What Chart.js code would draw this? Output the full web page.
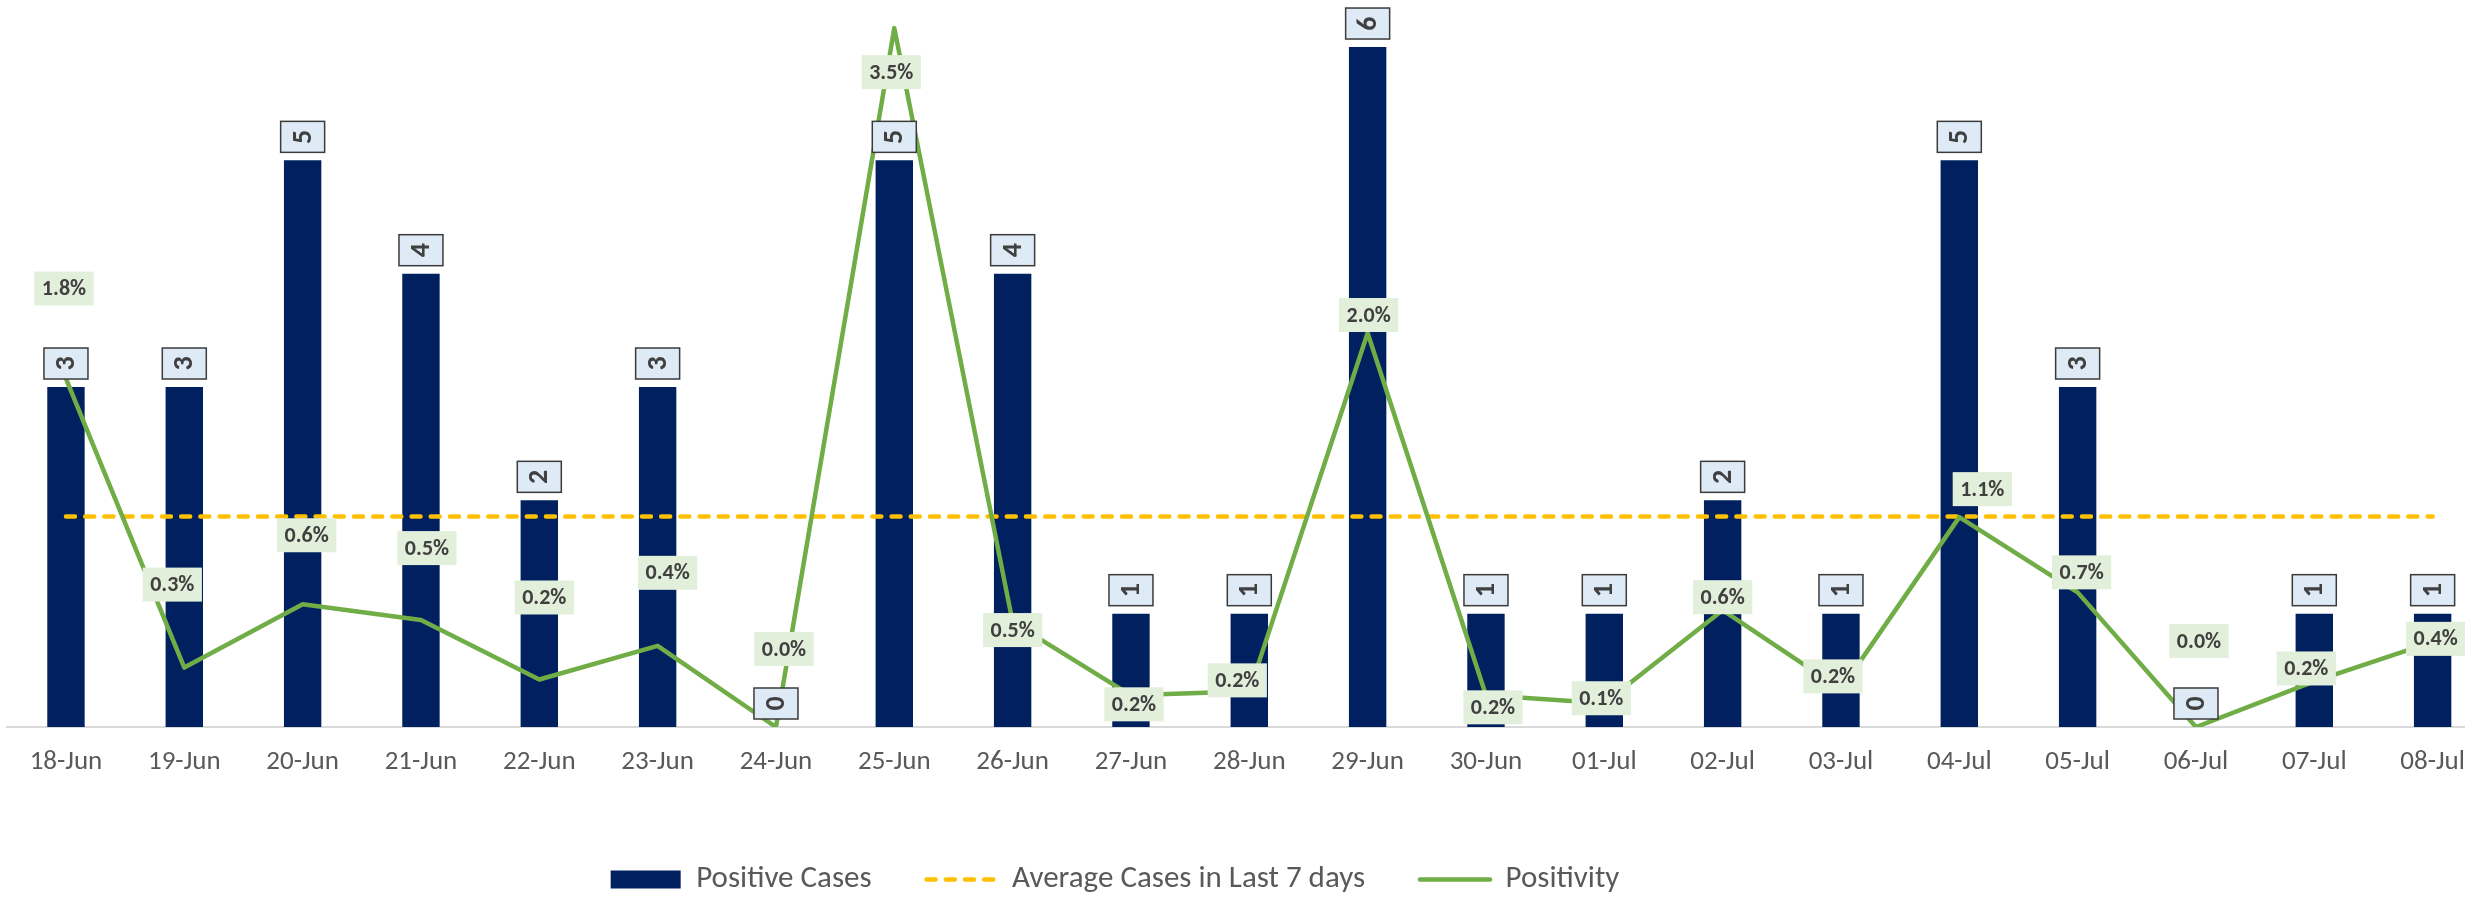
<!DOCTYPE html>
<html>
<head>
<meta charset="utf-8">
<script src="https://cdn.jsdelivr.net/npm/chart.js@4.4.1/dist/chart.umd.min.js"></script>
<style>
  html, body { margin: 0; padding: 0; overflow: hidden; background: #ffffff; width: 2465px; height: 897px; }
  #wrap { position: absolute; left: 0; top: 0; }
  canvas { display: block; }
</style>
</head>
<body>
<div id="wrap"><canvas id="chart"></canvas></div>
<script>
// ---------------- DATA ----------------
const categories = ['18-Jun','19-Jun','20-Jun','21-Jun','22-Jun','23-Jun','24-Jun','25-Jun','26-Jun','27-Jun','28-Jun',
                    '29-Jun','30-Jun','01-Jul','02-Jul','03-Jul','04-Jul','05-Jul','06-Jul','07-Jul','08-Jul'];
const positiveCases = [3, 3, 5, 4, 2, 3, 0, 5, 4, 1, 1, 6, 1, 1, 2, 1, 5, 3, 0, 1, 1];
const averageCases7d = [1.857, 1.857, 1.857, 1.857, 1.857, 1.857, 1.857, 1.857, 1.857, 1.857, 1.857,
                        1.857, 1.857, 1.857, 1.857, 1.857, 1.857, 1.857, 1.857, 1.857, 1.857];
const positivityPct = [1.76, 0.30, 0.62, 0.54, 0.24, 0.41, 0.00, 3.53, 0.53, 0.16, 0.18,
                       1.99, 0.16, 0.12, 0.59, 0.19, 1.06, 0.68, 0.00, 0.23, 0.43];
const seriesNames = ['Positive Cases', 'Average Cases in Last 7 days', 'Positivity'];

// ---------------- LAYOUT / STYLE ----------------
const CASES_AXIS_MAX = 6.415;   // hidden primary axis range
const PCT_AXIS_MAX = 3.672;     // hidden secondary axis range (%)
// manual label nudges (px) for the positivity labels, relative to each point
const pctLabelOffsets = [[-2,-90],[-12,-83],[4,-69],[6,-72],[5,-82],[10,-73],[8,-78],[-3,44],[0,8],[3,9],[-12,-11],
                         [1,-18],[7,12],[-3,-5],[0,-13],[-8,-13],[23,-28],[4,-20],[3,-86],[-8,-13],[3,-3]];

function fontAvailable(name) {
  const c = document.createElement('canvas').getContext('2d');
  const s = 'abcdefghijklmnopqrstuvwxyz0123456789';
  c.font = '40px monospace'; const a = c.measureText(s).width;
  c.font = '40px serif'; const b = c.measureText(s).width;
  c.font = '40px "' + name + '", monospace'; const a2 = c.measureText(s).width;
  c.font = '40px "' + name + '", serif'; const b2 = c.measureText(s).width;
  return a !== a2 || b !== b2;
}
const useCarlito = fontAvailable('Carlito');
const FAMILY = useCarlito ? 'Carlito' : 'Lato';
const FS = useCarlito
  ? { tick: 27, legend: 31, barLabel: 28, pctLabel: 22 }
  : { tick: 24.8, legend: 28.2, barLabel: 25, pctLabel: 19.4 };

const CANVAS_W = 2500;
const PLOT_BOTTOM = 727;
const LEGEND_CENTER_Y = 879;
const LEGEND_CENTER_X = 1115;
const LEGEND_PAD = 55;
const CANVAS_H = Math.round(LEGEND_CENTER_Y + 10 + FS.legend / 2);
const LEGEND_H = FS.legend + LEGEND_PAD + 10;

const canvas = document.getElementById('chart');
canvas.width = CANVAS_W; canvas.height = CANVAS_H;
canvas.style.width = CANVAS_W + 'px'; canvas.style.height = CANVAS_H + 'px';

Chart.defaults.font.family = FAMILY;

const labelPlugin = {
  id: 'customLabels',
  afterDatasetsDraw(chart) {
    const ctx = chart.ctx;
    ctx.save();
    // bar value boxes (rotated text)
    const barMeta = chart.getDatasetMeta(0);
    const barData = chart.data.datasets[0].data;
    barMeta.data.forEach((bar, i) => {
      const w = 44, h = 31;
      const cx = bar.x;
      const top = bar.y - 8 - h;
      ctx.fillStyle = '#DEEBF7';
      ctx.fillRect(cx - w / 2, top, w, h);
      ctx.strokeStyle = '#3B3B3B';
      ctx.lineWidth = 1.5;
      ctx.strokeRect(cx - w / 2, top, w, h);
      ctx.save();
      ctx.translate(cx, top + h / 2);
      ctx.rotate(-Math.PI / 2);
      ctx.font = 'bold ' + FS.barLabel + 'px ' + FAMILY;
      ctx.fillStyle = '#404040';
      ctx.textAlign = 'center';
      ctx.textBaseline = 'middle';
      ctx.fillText(String(barData[i]), 0, 1);
      ctx.restore();
    });
    // positivity boxes
    const lineMeta = chart.getDatasetMeta(2);
    const pctData = chart.data.datasets[2].data;
    ctx.font = 'bold ' + FS.pctLabel + 'px ' + FAMILY;
    ctx.textAlign = 'center';
    ctx.textBaseline = 'middle';
    lineMeta.data.forEach((pt, i) => {
      const txt = pctData[i].toFixed(1) + '%';
      const tw = ctx.measureText(txt).width;
      const w = tw + 15, h = 34;
      const off = pctLabelOffsets[i];
      const cx = pt.x + off[0], cy = pt.y + off[1];
      ctx.fillStyle = '#E2EFDA';
      ctx.fillRect(cx - w / 2, cy - h / 2, w, h);
      ctx.fillStyle = '#404040';
      ctx.fillText(txt, cx, cy + 1);
    });
    ctx.restore();
  }
};

const legendShift = {
  id: 'legendShift',
  afterLayout(chart) {
    const lg = chart.legend;
    if (!lg) return;
    const dx = LEGEND_CENTER_X - (lg.left + lg.right) / 2;
    lg.left += dx; lg.right += dx;
  }
};

new Chart(canvas, {
  data: {
    labels: categories,
    datasets: [
      {
        type: 'bar', label: seriesNames[0], data: positiveCases,
        backgroundColor: '#002060', borderWidth: 0,
        barPercentage: 0.316, categoryPercentage: 1.0,
        yAxisID: 'y', order: 3
      },
      {
        type: 'line', label: seriesNames[1], data: averageCases7d,
        borderColor: '#FFC000', backgroundColor: '#FFC000', borderWidth: 4.5,
        borderDash: [9, 10.2], borderCapStyle: 'round',
        pointRadius: 0, fill: false, tension: 0, yAxisID: 'y', order: 2
      },
      {
        type: 'line', label: seriesNames[2], data: positivityPct,
        borderColor: '#70AD47', backgroundColor: '#70AD47', borderWidth: 4.5,
        borderJoinStyle: 'round', borderCapStyle: 'round',
        pointRadius: 0, fill: false, tension: 0, yAxisID: 'y2', order: 1
      }
    ]
  },
  options: {
    responsive: false,
    devicePixelRatio: 1,
    animation: false,
    events: [],
    layout: { padding: { left: 6.8, right: CANVAS_W - 2491.8, top: 0, bottom: 0 } },
    scales: {
      x: {
        offset: true,
        grid: { display: false, drawTicks: false },
        border: { display: true, color: '#D9D9D9', width: 2 },
        ticks: {
          color: '#595959', font: { size: FS.tick, family: FAMILY },
          padding: 35 - 0.6 * FS.tick, maxRotation: 0, autoSkip: false
        },
        afterFit(scale) { scale.height = (CANVAS_H - LEGEND_H) - PLOT_BOTTOM; }
      },
      y: { display: false, min: 0, max: CASES_AXIS_MAX },
      y2: { display: false, min: 0, max: PCT_AXIS_MAX, position: 'right' }
    },
    plugins: {
      tooltip: { enabled: false },
      legend: {
        position: 'bottom',
        labels: {
          usePointStyle: true, pointStyleWidth: 70, boxHeight: 18,
          padding: LEGEND_PAD, color: '#595959',
          font: { size: FS.legend, family: FAMILY },
          generateLabels(chart) {
            return chart.data.datasets.map((ds, i) => ({
              text: ds.label,
              fillStyle: ds.type === 'bar' ? ds.backgroundColor : 'rgba(0,0,0,0)',
              strokeStyle: ds.type === 'bar' ? ds.backgroundColor : ds.borderColor,
              lineWidth: ds.type === 'bar' ? 0 : ds.borderWidth,
              lineDash: ds.borderDash || [],
              lineCap: 'round',
              pointStyle: ds.type === 'bar' ? 'rect' : 'line',
              fontColor: '#595959',
              datasetIndex: i,
              hidden: false
            }));
          }
        }
      }
    }
  },
  plugins: [labelPlugin, legendShift]
});
</script>
</body>
</html>
